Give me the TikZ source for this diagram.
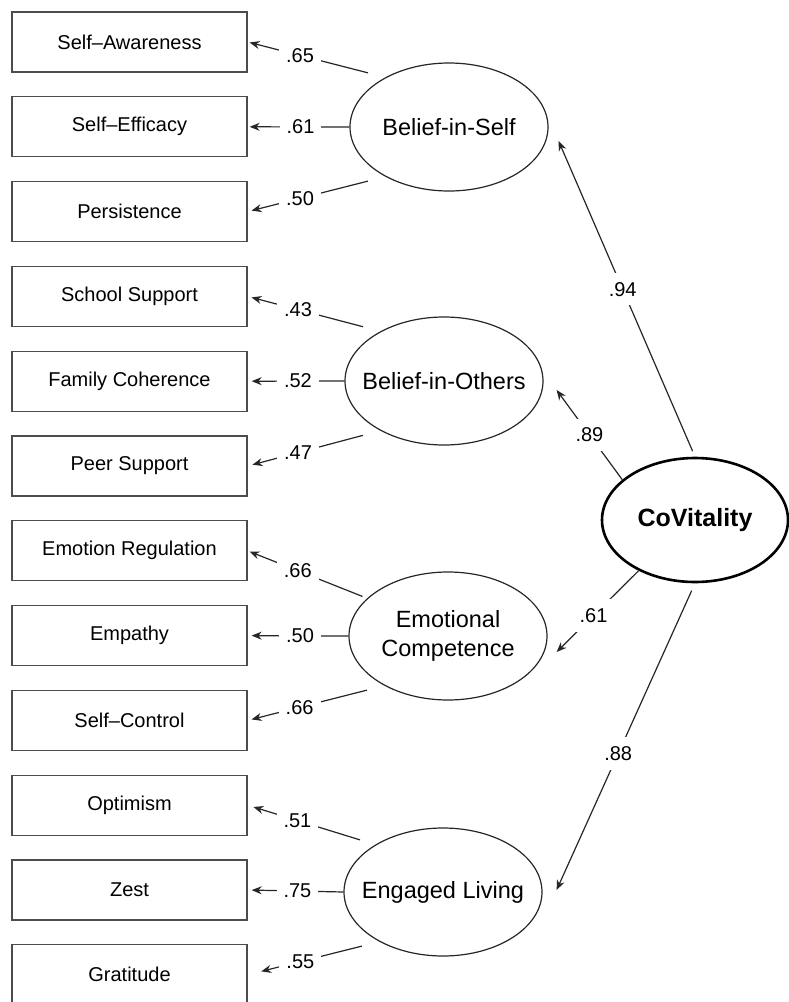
\documentclass[tikz,border=0pt]{standalone}
\usepackage{fontspec}
\setmainfont{Liberation Sans}
\usetikzlibrary{shapes.geometric,arrows.meta,calc}
\newcommand{\zbox}[1]{\makebox[0pt][c]{#1}}
\begin{document}
\begin{tikzpicture}[x=1pt,y=-1pt,
  obs/.style={draw=black!70,line width=1.3pt,minimum width=235pt,minimum height=60pt,inner sep=0pt,font=\fontsize{20}{24}\selectfont},
  lat/.style={ellipse,draw=black!85,line width=1.2pt,minimum width=198pt,minimum height=128pt,inner sep=0pt,font=\fontsize{23.5}{29}\selectfont,align=center},
  covst/.style={ellipse,draw,line width=2.6pt,minimum width=186pt,minimum height=124pt,inner sep=0pt,font=\bfseries\fontsize{25}{30}\selectfont},
  arr/.style={draw=black!85,line width=1.2pt,-{Stealth[length=10pt,width=8pt]}},
  lab/.style={fill=white,inner xsep=7pt,inner ysep=9pt,font=\fontsize{20}{24}\selectfont}
]
\useasboundingbox (0,0) rectangle (789,1002);
\clip (0,0) rectangle (789,1002);

% observed indicators
\node[obs] (b1)  at (129.5, 42.0)  {Self–Awareness};
\node[obs] (b2)  at (129.5,126.8)  {Self–Efficacy};
\node[obs] (b3)  at (129.5,211.6)  {Persistence};
\node[obs] (b4)  at (129.5,296.4)  {School Support};
\node[obs] (b5)  at (129.5,381.2)  {Family Coherence};
\node[obs] (b6)  at (129.5,466.0)  {Peer Support};
\node[obs] (b7)  at (129.5,550.8)  {Emotion Regulation};
\node[obs] (b8)  at (129.5,635.6)  {Empathy};
\node[obs] (b9)  at (129.5,720.4)  {Self–Control};
\node[obs] (b10) at (129.5,805.2)  {Optimism};
\node[obs] (b11) at (129.5,890.0)  {Zest};
\node[obs] (b12) at (129.5,974.8)  {Gratitude};

% latent factors
\node[lat] (bis) at (449,127) {\zbox{Belief-in-Self}};
\node[lat] (boi) at (444,381) {\zbox{Belief-in-Others}};
\node[lat] (ec)  at (448,636) {\zbox{\begin{tabular}{@{}c@{}}Emotional\\Competence\end{tabular}}};
\node[lat] (el)  at (443,892) {\zbox{Engaged Living}};

\node[covst] (cov) at (695,520) {CoVitality};

% loadings: Belief-in-Self
\draw[arr,shorten <=18pt,shorten >=2pt] (bis.142) -- node[lab,pos=0.62]{.65} (b1.east);
\draw[arr,shorten >=2pt] (bis.west) -- node[lab,pos=0.48]{.61} (b2.east);
\draw[arr,shorten <=18pt,shorten >=4pt] (bis.218) -- node[lab,pos=0.62]{.50} (b3.east);

% Belief-in-Others
\draw[arr,shorten <=18pt,shorten >=4pt] (boi.142) -- node[lab,pos=0.62]{.43} (b4.east);
\draw[arr,shorten >=4pt] (boi.west) -- node[lab,pos=0.48]{.52} (b5.east);
\draw[arr,shorten <=18pt,shorten >=5pt] (boi.218) -- node[lab,pos=0.62]{.47} (b6.east);

% Emotional Competence
\draw[arr,shorten <=5pt,shorten >=2pt] (ec.155) -- node[lab,pos=0.58]{.66} (b7.east);
\draw[arr,shorten >=4pt] (ec.west) -- node[lab,pos=0.48]{.50} (b8.east);
\draw[arr,shorten <=18pt,shorten >=4pt] (ec.218) -- node[lab,pos=0.62]{.66} (b9.east);

% Engaged Living
\draw[arr,shorten <=16pt,shorten >=6pt] (el.145) -- node[lab,pos=0.61]{.51} (b10.east);
\draw[arr,shorten >=4pt] (el.west) -- node[lab,pos=0.48]{.75} (b11.east);
\draw[arr,shorten <=18pt,shorten >=14pt] (el.218) -- node[lab,pos=0.6]{.55} (b12.east);

% second-order paths
\coordinate (t1) at ($(bis.east)+(10,14)$);
\coordinate (t2) at ($(boi.east)+(13,9)$);
\coordinate (t3) at ($(ec.east)+(9,16)$);
\coordinate (t4) at ($(el.east)+(14,-2)$);
\draw[arr,shorten <=6pt] (cov.north) -- node[lab,pos=0.53]{.94} (t1);
\draw[arr] (cov.151) -- node[lab,pos=0.5]{.89} (t2);
\draw[arr] (cov.222) -- node[lab,pos=0.55]{.61} (t3);
\draw[arr,shorten <=8pt] (cov.south) -- node[lab,pos=0.555]{.88} (t4);
\end{tikzpicture}
\end{document}
